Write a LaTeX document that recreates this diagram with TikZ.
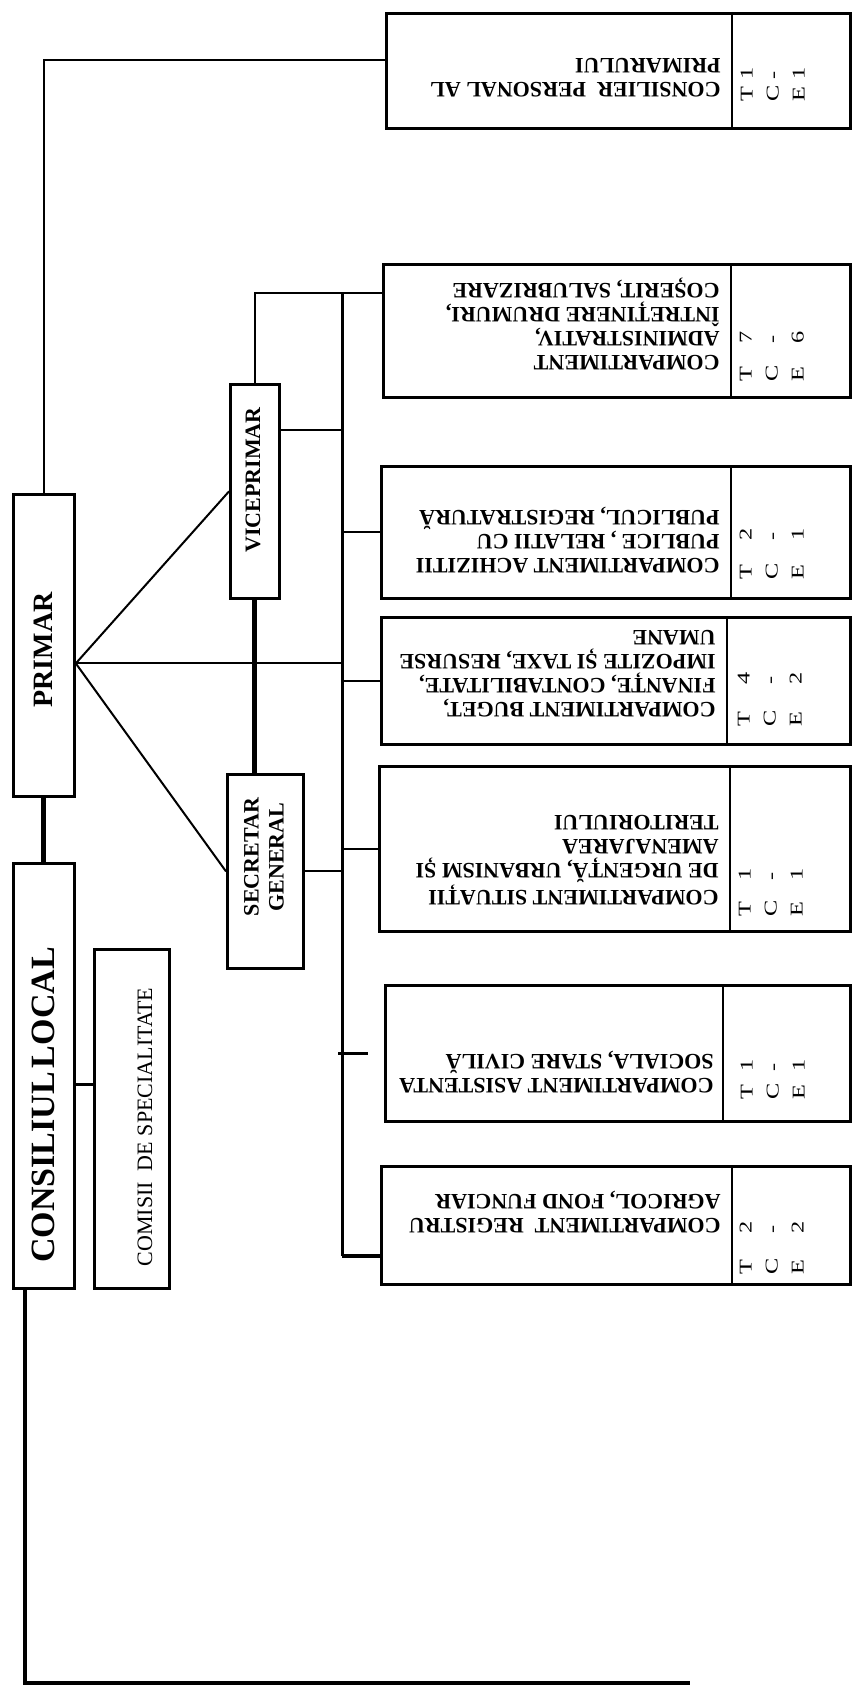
\documentclass[tikz,border=0pt]{standalone}
\usepackage{fontspec}
\setmainfont{Liberation Serif}
\usepackage{graphicx}
\usetikzlibrary{calc}
\newcommand\sx[1]{\scalebox{1.35}[1]{#1}}
\newcommand\mybox[5]{\node[box, minimum width={(#4-#2)*0.5pt}, minimum height={(#5-#3)*0.5pt}] (#1) at (#2,#3) {};}
\newcommand\tce[7]{\node[tce] (#1) at (#2,#3) {\begin{tabular}{@{}l@{\hspace{#4}}l@{}}\sx{T}&\sx{#5}\\\sx{C}&\sx{#6}\\\sx{E}&\sx{#7}\end{tabular}};}
\begin{document}
\begin{tikzpicture}[x=0.5pt,y=-0.5pt,
  box/.style={draw, line width=1.4pt, inner sep=0pt, anchor=north west},
  ln/.style={line width=1pt},
  dv/.style={line width=1.2pt},
  thk/.style={line width=2.5pt},
  med/.style={line width=1.8pt},
  busline/.style={line width=1.5pt},
  dtext/.style={rotate=180, anchor=north west, inner sep=0pt, align=left, font=\fontsize{11}{12}\selectfont\bfseries},
  tce/.style={rotate=90, anchor=north west, inner sep=0pt, font=\fontsize{9}{13}\selectfont},
  ltext/.style={rotate=90, inner sep=0pt, align=center},
]
\useasboundingbox (0,0) rectangle (851,1691);

% ---- left column boxes
\mybox{primar}{12}{493}{73}{795}
\node[ltext, font=\fontsize{14}{14}\selectfont\bfseries] (primar-t) at (43,650) {PRIMAR};
\mybox{consiliul}{12}{862}{73}{1287}
\node[ltext, font=\fontsize{17}{17}\selectfont\bfseries] (cl-t) at (43,1105) {CONSILIUL\hspace{0.12em}LOCAL};
\mybox{comisii}{93}{948}{168}{1287}
\node[ltext, font=\fontsize{11}{12}\selectfont] (com-t) at (145,1127) {COMISII\ \ DE\ SPECIALITATE};
\mybox{vice}{229}{383}{278}{597}
\node[ltext, font=\fontsize{11}{12}\selectfont\bfseries] (vice-t) at (253,480) {VICEPRIMAR};
\mybox{secretar}{226}{773}{302}{967}
\node[ltext, font=\fontsize{11}{12.5}\selectfont\bfseries] (sec-t) at (264,857) {SECRETAR\\GENERAL};

% ---- department boxes
\mybox{consil}{385}{12}{849}{127}
\draw[dv] (732,12) -- (732,127);
\node[dtext] (consil-t) at (721,97) {CONSILIER\ \ PERSONAL AL\\PRIMARULUI};
\tce{consil-n}{734}{102}{3.1pt}{1}{-}{1}

\mybox{admin}{382}{263}{849}{396}
\draw[dv] (731,263) -- (731,396);
\node[dtext] (admin-t) at (720,370) {COMPARTIMENT\\ADMINISTRATIV,\\ÎNTREȚINERE DRUMURI,\\COȘERIT, SALUBRIZARE};
\tce{admin-n}{733}{382}{10.8pt}{7}{-}{6}

\mybox{achiz}{380}{465}{849}{597}
\draw[dv] (731,465) -- (731,597);
\node[dtext] (achiz-t) at (720,573) {COMPARTIMENT ACHIZITII\\PUBLICE , RELATII CU\\PUBLICUL, REGISTRATURĂ};
\tce{achiz-n}{733}{580}{11.6pt}{2}{-}{1}

\mybox{buget}{380}{616}{849}{743}
\draw[dv] (727,616) -- (727,743);
\node[dtext] (buget-t) at (716,717) {COMPARTIMENT BUGET,\\FINANȚE, CONTABILITATE,\\IMPOZITE ȘI TAXE, RESURSE\\UMANE};
\tce{buget-n}{731}{727}{12.8pt}{4}{-}{2}

\mybox{situ}{378}{765}{849}{930}
\draw[dv] (730,765) -- (730,930);
\node[dtext] (situ-t) at (719,905) {COMPARTIMENT SITUAȚII\\DE URGENȚĂ, URBANISM ȘI\\AMENAJAREA\\TERITORIULUI};
\tce{situ-n}{732}{917}{10.1pt}{1}{-}{1}

\mybox{asist}{384}{984}{849}{1120}
\draw[dv] (723,984) -- (723,1120);
\node[dtext] (asist-t) at (714,1093) {COMPARTIMENT ASISTENTA\\SOCIALA, STARE CIVILĂ};
\tce{asist-n}{734}{1100}{5.8pt}{1}{-}{1}

\mybox{regis}{380}{1165}{849}{1283}
\draw[dv] (732,1165) -- (732,1283);
\node[dtext] (regis-t) at (721,1233) {COMPARTIMENT\ \ REGISTRU\\AGRICOL, FOND FUNCIAR};
\tce{regis-n}{733}{1275}{12.6pt}{2}{-}{2}

% ---- connectors
\coordinate (busTop) at (342,293);
\coordinate (busBot) at (342,1256);
\coordinate (pf) at ($(primar.east)+(0,18)$);
\coordinate (c1) at ($(consil.north west)+(0,48)$);
\coordinate (k) at ($(consiliul.east)+(0,8.5)$);
\coordinate (bl) at ($(consiliul.south west)+(13,0)$);
\coordinate (br) at (690,1683);
\coordinate (v1) at ($(vice.east)+(0,-61)$);
\coordinate (t1) at ($(asist.west)+(-46,0)$);
\coordinate (t2) at ($(asist.west)+(-16,0)$);

\draw[ln] (primar.north) |- (c1);
\draw[thk] (primar.south) -- (consiliul.north);
\draw[med] (k) -- (k -| comisii.west);
\draw[med] (bl) |- (br);

\draw[ln] (pf) -- (vice.west);
\draw[ln] (pf) -- (secretar.west);
\draw[ln] (pf) -- (pf -| busTop);
\draw[thk] (vice.south) -- (vice.south |- secretar.north);

\draw[ln] (vice.north) |- (admin.west |- busTop);
\draw[busline] (busTop) -- (busBot);
\draw[ln] (v1) -- (v1 -| busTop);
\draw[ln] (achiz.west -| busTop) -- (achiz.west);
\draw[ln] (buget.west -| busTop) -- (buget.west);
\draw[ln] (situ.west -| busTop) -- (situ.west);
\draw[ln] (secretar.east) -- (secretar.east -| busTop);
\draw[med] (t1) -- (t2);
\draw[med] (busBot) -- (busBot -| regis.west);
\end{tikzpicture}
\end{document}
